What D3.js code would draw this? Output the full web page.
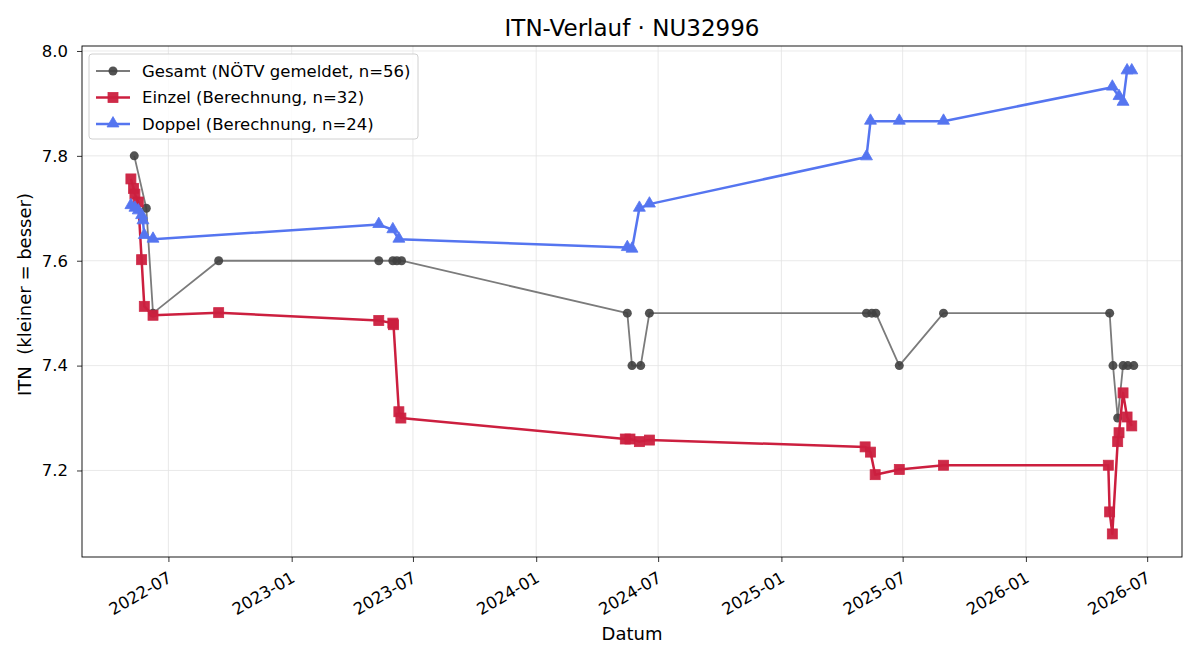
<!DOCTYPE html>
<html lang="de">
<head>
<meta charset="UTF-8">
<title>ITN-Verlauf</title>
<style>
  body { margin: 0; background: #fff; }
  svg { font-family: "DejaVu Sans", sans-serif; }
</style>
</head>
<body>
<svg id="chart" width="1200" height="660"></svg>
<script src="https://cdn.jsdelivr.net/npm/d3@7"></script>
<script>
// Gesamt (NÖTV gemeldet)
var gesamtDates = ["2022-05-11", "2022-05-29", "2022-06-08", "2022-09-14", "2023-05-11", "2023-06-01",
    "2023-06-07", "2023-06-14", "2024-05-16", "2024-05-23", "2024-06-05", "2024-06-18", "2025-05-08",
    "2025-05-16", "2025-05-22", "2025-06-26", "2025-08-31", "2026-05-06", "2026-05-11", "2026-05-18",
    "2026-05-26", "2026-06-02", "2026-06-11"];
var gesamtValues = [7.8, 7.7, 7.5, 7.6, 7.6, 7.6, 7.6, 7.6, 7.5, 7.4, 7.4, 7.5, 7.5, 7.5, 7.5, 7.4, 7.5,
    7.5, 7.4, 7.3, 7.4, 7.4, 7.4];

// Einzel (Berechnung)
var einzelDates = ["2022-05-06", "2022-05-10", "2022-05-12", "2022-05-17", "2022-05-22", "2022-05-26",
    "2022-06-08", "2022-09-14", "2023-05-11", "2023-06-01", "2023-06-02", "2023-06-10", "2023-06-13",
    "2024-05-13", "2024-05-20", "2024-06-03", "2024-06-18", "2025-05-06", "2025-05-14", "2025-05-21",
    "2025-06-26", "2025-08-31", "2026-05-04", "2026-05-06", "2026-05-10", "2026-05-18", "2026-05-20",
    "2026-05-26", "2026-06-01", "2026-06-08"];
var einzelValues = [7.756, 7.738, 7.727, 7.712, 7.602, 7.513, 7.496, 7.501, 7.486, 7.481, 7.478, 7.312,
    7.300, 7.260, 7.260, 7.255, 7.258, 7.245, 7.235, 7.192, 7.202, 7.210, 7.210, 7.121, 7.079, 7.255,
    7.272, 7.348, 7.302, 7.285];

// Doppel (Berechnung)
var doppelDates = ["2022-05-06", "2022-05-12", "2022-05-17", "2022-05-22", "2022-05-24", "2022-05-26",
    "2022-06-08", "2023-05-11", "2023-06-01", "2023-06-10", "2024-05-16", "2024-05-23", "2024-06-03",
    "2024-06-18", "2025-05-08", "2025-05-14", "2025-06-26", "2025-08-31", "2026-05-10", "2026-05-20",
    "2026-05-26", "2026-06-01", "2026-06-08"];
var doppelValues = [7.705, 7.700, 7.695, 7.686, 7.676, 7.648, 7.641, 7.669, 7.659, 7.641, 7.625, 7.622,
    7.700, 7.708, 7.798, 7.866, 7.866, 7.866, 7.931, 7.913, 7.902, 7.962, 7.962];

var yTicks = [7.2, 7.4, 7.6, 7.8, 8.0];
var xTicks = ["2022-07", "2023-01", "2023-07", "2024-01", "2024-07", "2025-01", "2025-07", "2026-01", "2026-07"];

var legendLabels = ["Gesamt (NÖTV gemeldet, n=56)", "Einzel (Berechnung, n=32)", "Doppel (Berechnung, n=24)"];

var parseDay = d3.timeParse("%Y-%m-%d");
var parseMonth = d3.timeParse("%Y-%m");

function zipSeries(dates, values) {
    return dates.map(function (d, i) { return { date: parseDay(d), value: values[i] }; });
}

var series = [
    { name: legendLabels[0], data: zipSeries(gesamtDates, gesamtValues), line: "#7b7b7b", lw: 1.8, fill: "#404040", marker: "circle" },
    { name: legendLabels[1], data: zipSeries(einzelDates, einzelValues), line: "#cc1f3f", lw: 2.5, fill: "#cc1f3f", marker: "square" },
    { name: legendLabels[2], data: zipSeries(doppelDates, doppelValues), line: "#5575f0", lw: 2.5, fill: "#5575f0", marker: "triangle" }
];

var margin = { top: 46, right: 18, bottom: 103, left: 82 },
    width = 1200 - margin.left - margin.right,
    height = 660 - margin.top - margin.bottom;

var svg = d3.select("#chart");
var g = svg.append("g").attr("transform", "translate(" + margin.left + "," + margin.top + ")");

var x = d3.scaleTime()
    .domain([parseDay("2022-02-22"), parseDay("2026-08-22")])
    .range([0, width]);
var y = d3.scaleLinear()
    .domain([7.035, 8.0095])
    .range([height, 0]);

var xTickDates = xTicks.map(parseMonth);

// grid
g.append("g").selectAll("line").data(xTickDates).enter().append("line")
    .attr("x1", function (d) { return x(d); }).attr("x2", function (d) { return x(d); })
    .attr("y1", 0).attr("y2", height)
    .attr("stroke", "#e3e3e3").attr("stroke-width", 0.8);
g.append("g").selectAll("line").data(yTicks).enter().append("line")
    .attr("y1", function (d) { return y(d); }).attr("y2", function (d) { return y(d); })
    .attr("x1", 0).attr("x2", width)
    .attr("stroke", "#e3e3e3").attr("stroke-width", 0.8);

// axes
var xAxis = g.append("g")
    .attr("transform", "translate(0," + height + ")")
    .call(d3.axisBottom(x).tickValues(xTickDates).tickSize(5).tickSizeOuter(0).tickFormat(d3.timeFormat("%Y-%m")));
xAxis.attr("font-size", 16.5).attr("font-family", "DejaVu Sans");
xAxis.selectAll("text")
    .attr("fill", "#000")
    .attr("text-anchor", "end")
    .attr("x", 0).attr("y", 0).attr("dy", 0)
    .attr("transform", "translate(4,24) rotate(-30)");

var yAxis = g.append("g")
    .call(d3.axisLeft(y).tickValues(yTicks).tickSize(5).tickPadding(9).tickSizeOuter(0).tickFormat(d3.format(".1f")));
yAxis.attr("font-size", 16.5).attr("font-family", "DejaVu Sans");
yAxis.selectAll("text").attr("fill", "#000");

[xAxis, yAxis].forEach(function (a) {
    a.select(".domain").remove();
    a.selectAll("line").attr("stroke", "#000").attr("stroke-width", 0.8);
});

// series
var line = d3.line()
    .x(function (d) { return x(d.date); })
    .y(function (d) { return y(d.value); });

var triangle = d3.symbol().type(d3.symbolTriangle).size(62);

function drawMarker(sel, s) {
    if (s.marker === "circle") {
        sel.append("circle").attr("r", 4.5).attr("fill", s.fill).attr("opacity", 0.9);
    } else if (s.marker === "square") {
        sel.append("rect").attr("x", -5).attr("y", -5).attr("width", 10).attr("height", 10)
            .attr("fill", s.fill).attr("stroke", s.fill).attr("stroke-width", 0.8).attr("opacity", 0.95);
    } else {
        sel.append("path").attr("d", triangle).attr("transform", "translate(0,-0.5)")
            .attr("fill", s.fill).attr("stroke", s.fill).attr("stroke-width", 0.8);
    }
}

series.forEach(function (s) {
    var sg = g.append("g");
    sg.append("path")
        .datum(s.data)
        .attr("fill", "none")
        .attr("stroke", s.line)
        .attr("stroke-width", s.lw)
        .attr("stroke-linejoin", "round")
        .attr("d", line);
    sg.selectAll("g.pt").data(s.data).enter().append("g")
        .attr("class", "pt")
        .attr("transform", function (d) { return "translate(" + x(d.date) + "," + y(d.value) + ")"; })
        .each(function () { drawMarker(d3.select(this), s); });
});

// frame
g.append("rect").attr("width", width).attr("height", height)
    .attr("fill", "none").attr("stroke", "#000").attr("stroke-width", 0.9);

// legend
var legend = g.append("g").attr("transform", "translate(7,8)");
legend.append("rect")
    .attr("width", 329).attr("height", 85).attr("rx", 3)
    .attr("fill", "#fff").attr("fill-opacity", 0.85)
    .attr("stroke", "#d0d0d0");
series.forEach(function (s, i) {
    var row = legend.append("g").attr("transform", "translate(0," + (17 + i * 26.5) + ")");
    row.append("line").attr("x1", 7).attr("x2", 41).attr("stroke", s.line).attr("stroke-width", s.lw);
    drawMarker(row.append("g").attr("transform", "translate(24,0)"), s);
    row.append("text").attr("x", 53).attr("dy", "0.35em")
        .style("font-size", "16.5px").text(s.name);
});

// titles
svg.append("text")
    .attr("x", margin.left + width / 2).attr("y", 36)
    .attr("text-anchor", "middle").style("font-size", "23px")
    .text("ITN-Verlauf · NU32996");
svg.append("text")
    .attr("x", margin.left + width / 2).attr("y", 640)
    .attr("text-anchor", "middle").style("font-size", "18px")
    .text("Datum");
svg.append("text")
    .attr("transform", "translate(31," + (margin.top + height / 2 - 7) + ") rotate(-90)")
    .attr("text-anchor", "middle").style("font-size", "18px")
    .attr("xml:space", "preserve")
    .text("ITN  (kleiner = besser)");
</script>
</body>
</html>
